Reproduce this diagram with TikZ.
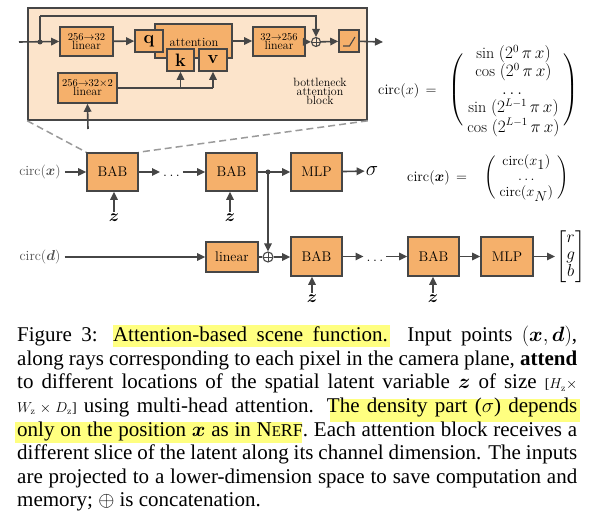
\documentclass[tikz,border=0pt]{standalone}
\usepackage{amsmath}
\usepackage{fontspec}
\newfontfamily\capfont{Liberation Serif}
\usetikzlibrary{arrows.meta}
\definecolor{boxfill}{HTML}{F5B06B}
\definecolor{boxdraw}{HTML}{464646}
\definecolor{blkfill}{HTML}{FCE4CB}
\definecolor{hlcol}{HTML}{FFFF80}
\definecolor{lblgray}{HTML}{505050}
\definecolor{dashgray}{HTML}{9A9A9A}
\begin{document}
\begin{tikzpicture}[x=1pt,y=-1pt,
  box/.style={draw=boxdraw, fill=boxfill, line width=1.6pt, inner sep=0pt, align=center},
  ln/.style={draw=boxdraw, line width=1.6pt},
  arr/.style={draw=boxdraw, line width=1.6pt, -{Triangle[length=8pt,width=7.5pt]}},
  oplus/.style={circle, draw=boxdraw, line width=1.1pt, inner sep=0pt, minimum size=#1,
    path picture={\draw[boxdraw, line width=0.9pt] (path picture bounding box.north) -- (path picture bounding box.south)
      (path picture bounding box.west) -- (path picture bounding box.east);}},
  jdot/.style={circle, fill=boxdraw, inner sep=0pt, minimum size=5pt},
  small/.style={font=\fontsize{12}{11}\selectfont},
  mid/.style={font=\fontsize{14}{17}\selectfont},
  zlab/.style={font=\fontsize{18}{18}\selectfont, inner sep=2pt},
  paren/.style={font=\fontsize{16}{17}\selectfont, inner sep=0pt},
  capline/.style={inner sep=0pt, anchor=base west, font=\capfont\fontsize{21}{23.5}\selectfont},
  hl/.style={fill=hlcol, draw=none},
  dsh/.style={draw=dashgray, line width=1.5pt, dash pattern=on 7pt off 4pt}
]
\useasboundingbox (0,0) rectangle (589,521);

% ---------- bottleneck attention block ----------
\node[draw=boxdraw, fill=blkfill, line width=1.6pt, minimum width=339pt, minimum height=112pt, inner sep=0pt] (blk) at (197.5,64) {};
\node[box, minimum width=53pt, minimum height=29pt, small] (lin1) at (86.5,41.5)
  {{\fontsize{10.5}{10}\selectfont 256$\rightarrow$32}\\[-2pt]linear};
\node[box, minimum width=77pt, minimum height=34pt] (att) at (193.5,41) {};
\node[font=\fontsize{12.5}{12}\selectfont, inner sep=0pt] (atttxt) at (194,42) {attention};
\node[box, minimum width=28pt, minimum height=22pt, font=\fontsize{18}{18}\selectfont] (q) at (149,41) {\textbf{q}};
\node[box, minimum width=27pt, minimum height=22pt, font=\fontsize{18}{18}\selectfont] (k) at (180.5,60) {\textbf{k}};
\node[box, minimum width=28pt, minimum height=22pt, font=\fontsize{18}{18}\selectfont] (v) at (213,60) {\textbf{v}};
\node[box, minimum width=52pt, minimum height=29pt, small] (lin3) at (279,41.5)
  {{\fontsize{10.5}{10}\selectfont 32$\rightarrow$256}\\[-2pt]linear};
\node[oplus=9pt] (op1) at (316,42) {};
\node[box, minimum width=20pt, minimum height=22pt] (relu) at (349,41) {};
\draw[boxdraw, line width=1.1pt] (343,46) -- (349.5,46) -- (355,37);
\node[box, minimum width=59pt, minimum height=30pt, small] (lin2) at (87.5,88)
  {{\fontsize{10.5}{10}\selectfont 256$\rightarrow$32$\times$2}\\[-2pt]linear};
\node[small, align=center, inner sep=0pt] (bab) at (320,91) {bottleneck\\[-2pt]attention\\[-2pt]block};

\coordinate (in1) at (19,42);
\node[jdot] (d1) at (40,42) {};
\coordinate (tl) at (40,16);
\coordinate (out1) at (383,42);
\coordinate (zin) at (88,129);

\draw[arr] (in1) -- (lin1.west);
\draw[ln] (d1.center) -- (tl);
\draw[arr] (tl) -| (op1.north);
\draw[arr] (lin1) -- (q);
\draw[arr] (att.east) -- (att.east -| lin3.west);
\draw[arr] (lin3) -- (op1);
\draw[arr] (op1) -- (relu);
\draw[arr] (relu) -- (out1);
\draw[ln] (lin2.east) -- (lin2.east -| v.south);
\draw[arr] (lin2.east -| k.south) -- (k.south);
\draw[arr] (lin2.east -| v.south) -- (v.south);
\draw[arr] (zin) -- (lin2.south);

% ---------- formula 1 ----------
\node[anchor=west, font=\fontsize{14.5}{17}\selectfont, inner sep=0pt] (f1l) at (378,91) {$\mathrm{circ}(x)\,=$};
\node[align=center, font=\fontsize{16}{18}\selectfont, inner sep=0pt] (f1) at (513.5,91)
  {$\sin\;(2^{0}\,\pi\, x)$\\ $\cos\;(2^{0}\,\pi\, x)$\\ $\dots$\\ $\sin\;(2^{L-1}\,\pi\, x)$\\ $\cos\;(2^{L-1}\,\pi\, x)$};
\node[paren] (p1l) at (457,90) {$\left(\vrule height 30pt depth 30pt width 0pt\right.$};
\node[paren] (p1r) at (570,90) {$\left.\vrule height 30pt depth 30pt width 0pt\right)$};

% ---------- middle row ----------
\node[mid, text=lblgray, inner sep=4pt] (lx) at (40,172) {circ($\boldsymbol{x}$)};
\node[box, mid, minimum width=51pt, minimum height=38pt] (bab1) at (112.5,172) {BAB};
\node[mid, anchor=base, inner sep=3pt] (dots1) at (171.5,177) {$\ldots$};
\node[box, mid, minimum width=51pt, minimum height=38pt] (bab2) at (231.5,172) {BAB};
\node[jdot] (d2) at (268,172) {};
\node[box, mid, minimum width=51pt, minimum height=38pt] (mlp1) at (316.5,172) {MLP};
\node[font=\fontsize{20}{20}\selectfont, inner sep=1pt] (sig) at (372,171) {$\sigma$};
\node[zlab] (z1) at (114,218) {$\boldsymbol{z}$};
\node[zlab] (z2) at (230,218) {$\boldsymbol{z}$};

\draw[arr] (lx) -- (bab1);
\draw[arr] (bab1.east) -- (bab1.east -| dots1.west);
\draw[arr] (bab2.west -| dots1.east) -- (bab2.west);
\draw[ln] (bab2) -- (d2.center);
\draw[arr] (d2.center) -- (mlp1);
\draw[arr] (mlp1) -- (sig);
\draw[arr] (z1.north) -- (z1.north |- bab1.south);
\draw[arr] (z2.north) -- (z2.north |- bab2.south);

% ---------- formula 2 ----------
\node[anchor=west, font=\fontsize{14.5}{17}\selectfont, inner sep=0pt] (f2l) at (407,178) {$\mathrm{circ}(\boldsymbol{x})\,=$};
\node[anchor=west, font=\fontsize{14}{15.5}\selectfont, inner sep=0pt] (f2) at (484,178)
  {$\begin{pmatrix}\;\mathrm{circ}(x_{\textstyle 1})\;\\ \dots\\ \;\mathrm{circ}(x_{\textstyle N})\;\end{pmatrix}$};

% ---------- bottom row ----------
\node[mid, text=lblgray, inner sep=4pt] (ld) at (40,257) {circ($\boldsymbol{d}$)};
\node[box, mid, minimum width=52pt, minimum height=30pt] (lin4) at (232,257) {linear};
\node[oplus=10pt] (op2) at (268,257) {};
\node[box, mid, minimum width=51pt, minimum height=39pt] (bab3) at (316.5,256.5) {BAB};
\node[mid, anchor=base, inner sep=3pt] (dots2) at (375,262) {$\ldots$};
\node[box, mid, minimum width=51pt, minimum height=39pt] (bab4) at (433.5,256.5) {BAB};
\node[box, mid, minimum width=52pt, minimum height=39pt] (mlp2) at (507,256.5) {MLP};
\node[font=\fontsize{17}{17}\selectfont, inner sep=1pt, anchor=west] (rgb) at (555,256.5)
  {$\begin{bmatrix} r\\ g\\ b\end{bmatrix}$};
\node[zlab] (z3) at (312,299) {$\boldsymbol{z}$};
\node[zlab] (z4) at (433,299) {$\boldsymbol{z}$};

\draw[arr] (ld) -- (lin4);
\draw[ln] (lin4) -- (op2);
\draw[arr] (d2.center) -- (op2.north);
\draw[arr] (op2) -- (op2 -| bab3.west);
\draw[arr] (bab3.east) -- (bab3.east -| dots2.west);
\draw[arr] (bab4.west -| dots2.east) -- (bab4.west);
\draw[arr] (bab4) -- (mlp2);
\draw[arr] (mlp2) -- (rgb);
\draw[arr] (z3.north) -- (z3.north |- bab3.south);
\draw[arr] (z4.north) -- (z4.north |- bab4.south);

% ---------- zoom lines ----------
\draw[dsh] (blk.south west) -- (bab1.north west);
\draw[dsh] (blk.south east) -- (bab1.north east);

% ---------- caption ----------
\fill[hl] (113,325) rectangle (390,346.5);
\fill[hl] (330,398.5) rectangle (580,421.5);
\fill[hl] (15,421.5) rectangle (302,442.5);
\node[capline] (c1) at (17,341.7) {\makebox[560pt][s]{Figure 3: Attention-based scene function. Input points $(\boldsymbol{x},\boldsymbol{d})$,}};
\node[capline] (c2) at (17,365.3) {\makebox[560pt][s]{along rays corresponding to each pixel in the camera plane, \textbf{attend}}};
\node[capline] (c3) at (17,388.9) {\makebox[560pt][s]{to different locations of the spatial latent variable $\boldsymbol{z}$ of size {\fontsize{14}{14}\selectfont [$H_{\mathrm{z}}\times$}}};
\node[capline] (c4) at (17,412.5) {\makebox[560pt][s]{{\fontsize{14}{14}\selectfont $W_{\mathrm{z}}\times D_{\mathrm{z}}$]} using multi-head attention. The density part ($\sigma$) depends}};
\node[capline] (c5) at (17,436.1) {\makebox[560pt][s]{only on the position $\boldsymbol{x}$ as in N{\fontsize{15}{15}\selectfont E}{\fontsize{18}{18}\selectfont RF}. Each attention block receives a}};
\node[capline] (c6) at (17,459.7) {\makebox[560pt][s]{different slice of the latent along its channel dimension. The inputs}};
\node[capline] (c7) at (17,483.3) {\makebox[560pt][s]{are projected to a lower-dimension space to save computation and}};
\node[capline] (c8) at (17,506.9) {memory; $\oplus$ is concatenation.};
\end{tikzpicture}
\end{document}
